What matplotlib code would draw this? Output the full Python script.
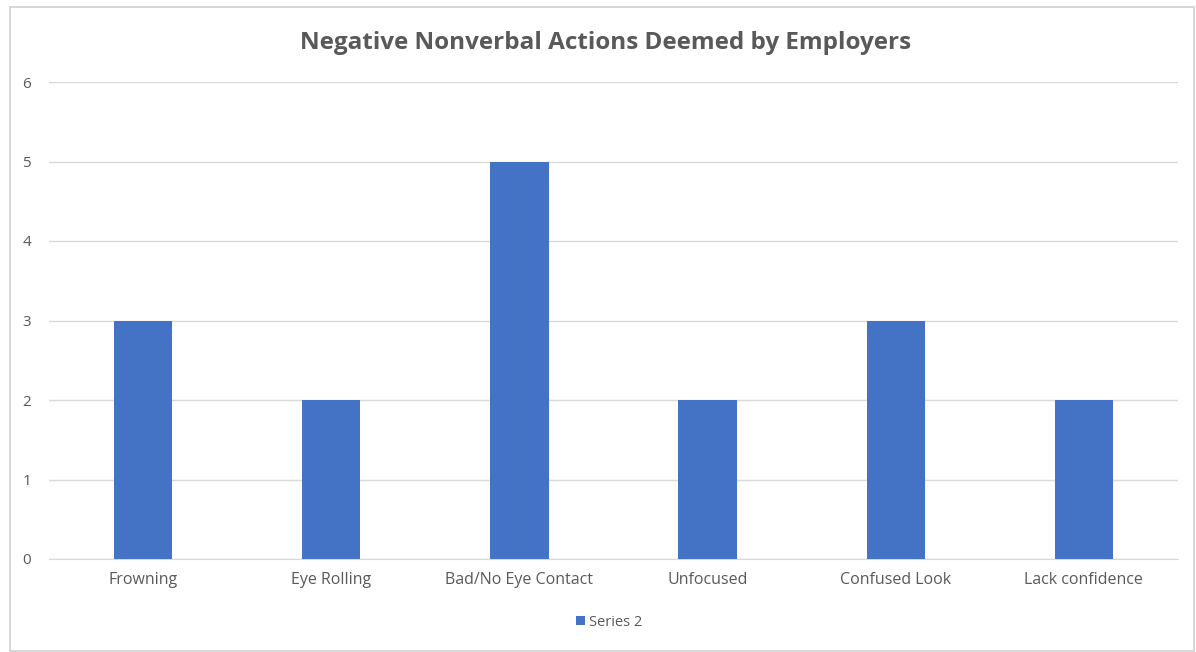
import matplotlib.pyplot as plt
from matplotlib.patches import Rectangle

categories = ['Frowning', 'Eye Rolling', 'Bad/No Eye Contact', 'Unfocused',
              'Confused Look', 'Lack confidence']
series2 = [3, 2, 5, 2, 3, 2]
yticks = [0, 1, 2, 3, 4, 5, 6]

BAR = '#4472C4'
TEXT = '#595959'
GRID = '#D9D9D9'

plt.rcParams['font.family'] = ['Open Sans', 'DejaVu Sans']

fig = plt.figure(figsize=(11.96, 6.52), dpi=100)
ax = fig.add_axes([49 / 1196, 1 - 559 / 652, 1129 / 1196, 477 / 652])

# chart border
fig.patches.append(Rectangle((10 / 1196, 1 / 652), 1184 / 1196, 644 / 652,
                             transform=fig.transFigure, fill=False,
                             edgecolor='#D0D0D0', linewidth=1.2))

x = list(range(len(categories)))
ax.bar(x, series2, width=0.31, color=BAR, label='Series 2', zorder=3)

ax.set_xlim(-0.5, len(categories) - 0.5)
ax.set_ylim(0, 6)
ax.set_yticks(yticks)
ax.set_xticks(x)
ax.set_xticklabels(categories)
ax.yaxis.grid(True, color=GRID, linewidth=1, zorder=0)
ax.tick_params(axis='both', length=0, colors=TEXT)
ax.tick_params(axis='x', pad=9, labelsize=11.5)
ax.tick_params(axis='y', pad=13, labelsize=11)
for side in ['top', 'right', 'left']:
    ax.spines[side].set_visible(False)
ax.spines['bottom'].set_color(GRID)

fig.text(606 / 1196, 1 - 43 / 652, 'Negative Nonverbal Actions Deemed by Employers',
         ha='center', va='center', fontsize=17.5, fontweight='bold', color=TEXT)

fig.legend(loc='center', bbox_to_anchor=(609 / 1196, 1 - 622 / 652),
           frameon=False, fontsize=10.5, labelcolor=TEXT,
           handlelength=0.6, handleheight=0.6, handletextpad=0.3)

fig.savefig('out.png', dpi=100)
